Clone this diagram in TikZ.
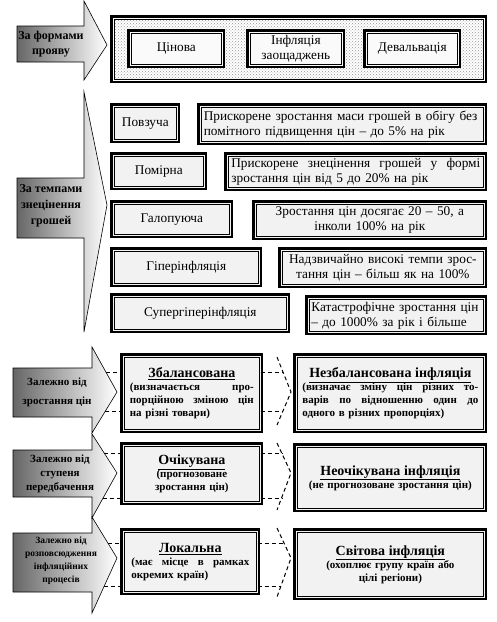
\documentclass[tikz,border=0pt]{standalone}
\usepackage{fontspec}
\setmainfont{Liberation Serif}
\usetikzlibrary{patterns}

\begin{document}
\begin{tikzpicture}[x=1pt,y=-1pt]

      \tikzstyle{FrameBox} = [
      rectangle,
      draw=black,
      line width=0.7pt,
      double=gray!10,
      double distance=1.2pt,
      preaction={draw=black, line width=6pt},
      fill=gray!10,
      anchor=north west,
      inner sep=3pt,
      align=center,
      font=\fontsize{13.3}{15}\selectfont
      ]
      \tikzstyle{DotsBox} = [
      FrameBox,
      preaction={fill=white},
      pattern=crosshatch dots,
      pattern color=gray!80,
      double=white
      ]
      \tikzstyle{KindBox} = [
      FrameBox,
      text width=#1,
      align=left,
      font=\bfseries\fontsize{11}{13}\selectfont
      ]
      \tikzstyle{ArrowShape} = [draw=black, line width=0.6pt, left color=black!60, right color=white]
      \tikzstyle{ArrowText} = [font=\bfseries\fontsize{11}{14}\selectfont, align=center]
      \tikzstyle{DashLine} = [draw=black, line width=1pt, dash pattern=on 4pt off 3pt]

      \useasboundingbox (0,0) rectangle (496,622);

      % forms
      \draw[ArrowShape] (17,26) -- (84,26) -- (84,1) -- (107,45) -- (84,80) -- (84,62) -- (17,62) -- cycle;
      \node (ZaFormamy) [ArrowText, font=\bfseries\fontsize{12}{15}\selectfont] at (51,44) {За формами\\прояву};

      \node (Formy) [DotsBox, minimum width=371pt, minimum height=62pt] at (113,18) {};
      \node (Cinova) [FrameBox, fill=gray!4, double=gray!4, minimum width=92pt, minimum height=33pt] at (130,32) {Цінова};
      \node (Zaoshch) [FrameBox, fill=gray!4, double=gray!4, minimum width=93pt, minimum height=33pt] at (249,32) {Інфляція\\заощаджень};
      \node (Deval) [FrameBox, fill=gray!4, double=gray!4, minimum width=92pt, minimum height=33pt] at (366,32) {Девальвація};

      % rates
      \draw[ArrowShape] (17,178) -- (84,178) -- (84,92) -- (107,205) -- (84,332) -- (84,238) -- (17,238) -- cycle;
      \node (ZaTempamy) [ArrowText, font=\bfseries\fontsize{12}{16}\selectfont] at (51,206) {За темпами\\знецінення\\грошей};

      \node (Povz) [FrameBox, minimum width=64pt, minimum height=34pt] at (113,106) {Повзуча};
      \node (PovzOpys) [FrameBox, minimum width=284pt, minimum height=36pt, text width=277pt, align=left] at (200,106)
        {Прискорене зростання маси грошей в обігу без\\помітного підвищення цін -- до 5\% на рік};
      \node (Pomirna) [FrameBox, minimum width=91pt, minimum height=32pt] at (113,155) {Помірна};
      \node (PomirnaOpys) [FrameBox, minimum width=257pt, minimum height=32pt, text width=249pt, align=left] at (227,155)
        {\makebox[249pt][s]{Прискорене\hfill знецінення\hfill грошей\hfill у\hfill формі}\\зростання цін від 5 до 20\% на рік};
      \node (Galop) [FrameBox, minimum width=117pt, minimum height=32pt] at (113,203) {Галопуюча};
      \node (GalopOpys) [FrameBox, minimum width=229pt, minimum height=34pt, text width=221pt] at (255,203)
        {Зростання цін досягає 20 -- 50, а\\інколи 100\% на рік};
      \node (Hiper) [FrameBox, minimum width=146pt, minimum height=34pt] at (113,250) {Гіперінфляція};
      \node (HiperOpys) [FrameBox, minimum width=203pt, minimum height=35pt, text width=197pt] at (281,250)
        {Надзвичайно високі темпи зрос-\\тання цін -- більш як на 100\%};
      \node (Super) [FrameBox, minimum width=174pt, minimum height=34pt] at (113,296) {Супергіперінфляція};
      \node (SuperOpys) [FrameBox, minimum width=176pt, minimum height=34pt, text width=170pt, align=left] at (308,298)
        {Катастрофічне зростання цін\\-- до 1000\% за рік і більше};

      % balance
      \draw[ArrowShape] (13,368) -- (92,368) -- (92,347) -- (117,392) -- (92,433) -- (92,417) -- (13,417) -- cycle;
      \node (ZalZrost) [ArrowText] at (57,392) {Залежно від\\[5pt]зростання цін};

      \node (Zbal) [KindBox=124pt, minimum width=137pt, minimum height=74pt] at (123,356) {
        \makebox[124pt]{\fontsize{14}{18}\selectfont\underline{Збалансована}}\\
        \makebox[124pt][s]{(визначається\hfill про-}\\
        \makebox[124pt][s]{порційною\hfill зміною\hfill цін}\\
        на різні товари)};
      \node (Nezbal) [KindBox=176pt, minimum width=188pt, minimum height=74pt] at (296,356) {
        \makebox[176pt]{\fontsize{14}{18}\selectfont\underline{Незбалансована інфляція}}\\
        \makebox[176pt][s]{(визначає\hfill зміну\hfill цін\hfill різних\hfill то-}\\
        \makebox[176pt][s]{варів\hfill по\hfill відношенню\hfill один\hfill до}\\
        одного в різних пропорціях)};

      % expectation
      \draw[ArrowShape] (13,450) -- (92,450) -- (92,434) -- (117,473) -- (92,518) -- (92,497) -- (13,497) -- cycle;
      \node (ZalPered) [ArrowText] at (60,474) {Залежно від\\ступеня\\передбачення};

      \node (Ochik) [KindBox=124pt, align=center, minimum width=137pt, minimum height=57pt] at (123,445) {
        {\fontsize{14}{18}\selectfont\underline{Очікувана}}\\
        (прогнозоване\\зростання цін)};
      \node (Neochik) [KindBox=180pt, align=center, minimum width=188pt, minimum height=63pt] at (296,446) {
        {\fontsize{14}{18}\selectfont\underline{Неочікувана інфляція}}\\
        (не прогнозоване зростання цін)};

      % spread
      \draw[ArrowShape] (13,533) -- (92,533) -- (92,517) -- (117,558) -- (92,613) -- (92,592) -- (13,592) -- cycle;
      \node (ZalRozp) [ArrowText, font=\bfseries\fontsize{9.5}{13}\selectfont] at (61,561) {Залежно від\\розповсюдження\\інфляційних\\процесів};

      \node (Lokal) [KindBox=118pt, minimum width=134pt, minimum height=61pt] at (123,531) {
        \makebox[118pt]{\fontsize{14}{18}\selectfont\underline{Локальна}}\\
        \makebox[118pt][s]{(має\hfill місце\hfill в\hfill рамках}\\
        окремих країн)};
      \node (Svit) [KindBox=180pt, align=center, minimum width=188pt, minimum height=66pt] at (296,531) {
        {\fontsize{14}{18}\selectfont\underline{Світова інфляція}}\\
        (охоплює групу країн або\\цілі регіони)};

      % dashed links
      \draw[DashLine] (106,372) -- (Zbal.west |- 0,372);
      \draw[DashLine] (105,411) -- (Zbal.west |- 0,411);
      \draw[DashLine] (Zbal.east |- 0,372) -- (283,372);
      \draw[DashLine] (Zbal.east |- 0,411) -- (283,411);
      \coordinate (ChevA1) at (277,357);
      \coordinate (ChevA2) at (291,392);
      \coordinate (ChevA3) at (277,425);
      \draw[DashLine] (ChevA1) -- (ChevA2) -- (ChevA3);

      \draw[DashLine] (104,453) -- (Ochik.west |- 0,453);
      \draw[DashLine] (103,498) -- (Ochik.west |- 0,498);
      \draw[DashLine] (Ochik.east |- 0,453) -- (282,453);
      \draw[DashLine] (Ochik.east |- 0,498) -- (282,498);
      \coordinate (ChevB1) at (277,443);
      \coordinate (ChevB2) at (291,473);
      \coordinate (ChevB3) at (277,510);
      \draw[DashLine] (ChevB1) -- (ChevB2) -- (ChevB3);

      \draw[DashLine] (108,543) -- (Lokal.west |- 0,543);
      \draw[DashLine] (104,586) -- (Lokal.west |- 0,586);
      \draw[DashLine] (Lokal.east |- 0,543) -- (284,543);
      \draw[DashLine] (Lokal.east |- 0,586) -- (281,586);
      \coordinate (ChevC1) at (277,528);
      \coordinate (ChevC2) at (291,558);
      \coordinate (ChevC3) at (277,597);
      \draw[DashLine] (ChevC1) -- (ChevC2) -- (ChevC3);

\end{tikzpicture}
\end{document}
